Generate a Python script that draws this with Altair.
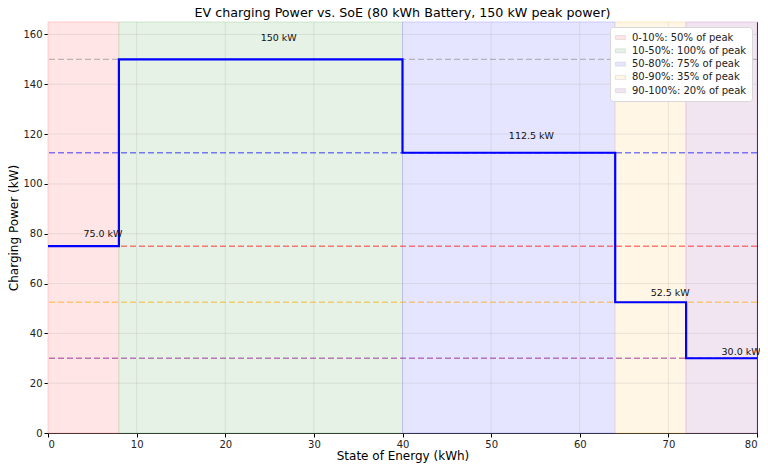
import altair as alt
import pandas as pd

# Data
band_start = [0, 8, 40, 64, 72]
band_end = [8, 40, 64, 72, 80]
band_labels = ["0-10%: 50% of peak", "10-50%: 100% of peak", "50-80%: 75% of peak",
               "80-90%: 35% of peak", "90-100%: 20% of peak"]
band_fill = ["#ffe5e5", "#e5f2e5", "#e5e5ff", "#fff6e5", "#f2e5f2"]
band_edge = ["#ffb3b3", "#b3d9b3", "#b3b3ff", "#ffdb99", "#d9b3d9"]

powers = [75.0, 150.0, 112.5, 52.5, 30.0]
power_labels = ["75.0 kW", "150 kW", "112.5 kW", "52.5 kW", "30.0 kW"]
line_colors = ["#ff0000", "#808080", "#0000ff", "#ffa500", "#800080"]

step_x = [0, 8, 40, 64, 72, 80]
step_y = [75.0, 150.0, 112.5, 52.5, 30.0, 30.0]

W, H = 709, 411
FONT = "DejaVu Sans"

bands = pd.DataFrame({"x": band_start, "x2": band_end, "label": band_labels})
hl = pd.DataFrame({"y": powers, "c": line_colors})
step = pd.DataFrame({"x": step_x, "y": step_y})
labels = pd.DataFrame({
    "x": [(a + b) / 2 for a, b in zip(band_start, band_end)],
    "y": [p * 1.05 for p in powers],
    "t": power_labels,
})

xs = alt.Scale(domain=[0, 80], nice=False, zero=False)
ys = alt.Scale(domain=[0, 165], nice=False)

rect = alt.Chart(bands).mark_rect(strokeWidth=1, strokeOpacity=0.6).encode(
    x=alt.X("x:Q", scale=xs, title="State of Energy (kWh)",
            axis=alt.Axis(values=[0, 10, 20, 30, 40, 50, 60, 70, 80], format="d", titlePadding=1)),
    x2="x2:Q",
    y=alt.value(0),
    y2=alt.value(H),
    color=alt.Color("label:N", sort=band_labels,
                    scale=alt.Scale(domain=band_labels, range=band_fill),
                    legend=alt.Legend(title=None, orient="top-right", offset=5,
                                      fillColor="white", strokeColor="#d8d8d8",
                                      cornerRadius=3, padding=5,
                                      symbolType="M-1,-0.4H1V0.4H-1Z", symbolSize=100,
                                      symbolStrokeColor="#cccccc", symbolStrokeWidth=0.5,
                                      labelFont=FONT, labelFontSize=10, labelColor="#222",
                                      labelOffset=6, rowPadding=2.3)),
    stroke=alt.Stroke("label:N", scale=alt.Scale(domain=band_labels, range=band_edge), legend=None),
)

grid = alt.Chart(step).mark_point(opacity=0).encode(
    x=alt.X("x:Q", scale=xs),
    y=alt.Y("y:Q", scale=ys, title="Charging Power (kW)",
            axis=alt.Axis(values=[0, 20, 40, 60, 80, 100, 120, 140, 160], titlePadding=2)),
)

gridx = alt.Chart(pd.DataFrame({"v": [10, 20, 30, 40, 50, 60, 70]})).mark_rule(
    color="#b0b0b0", opacity=0.35, strokeWidth=0.8).encode(x=alt.X("v:Q", scale=xs))
gridy = alt.Chart(pd.DataFrame({"v": [20, 40, 60, 80, 100, 120, 140, 160]})).mark_rule(
    color="#b0b0b0", opacity=0.35, strokeWidth=0.8).encode(y=alt.Y("v:Q", scale=ys))

rules = alt.Chart(hl).mark_rule(strokeDash=[6, 3], strokeWidth=1.4, opacity=0.5).encode(
    y=alt.Y("y:Q", scale=ys),
    color=alt.Color("c:N", scale=None),
)

line = alt.Chart(step).mark_line(interpolate="step-after", color="#0000ff", strokeWidth=2.2).encode(
    x=alt.X("x:Q", scale=xs),
    y=alt.Y("y:Q", scale=ys),
)

text = alt.Chart(labels).mark_text(align="left", baseline="bottom", font=FONT, fontSize=9.5,
                                    color="#111", dy=2).encode(
    x=alt.X("x:Q", scale=xs),
    y=alt.Y("y:Q", scale=ys),
    text="t:N",
)

chart = alt.layer(rect, gridx, gridy, grid, rules, line, text).resolve_scale(
    color="independent"
).properties(
    width=W, height=H,
    title=alt.TitleParams("EV charging Power vs. SoE (80 kWh Battery, 150 kW peak power)",
                          font=FONT, fontSize=12.7, fontWeight="normal", color="#000", offset=2),
    autosize=alt.AutoSizeParams(type="none"),
    padding={"left": 40, "top": 14, "right": 3, "bottom": 30},
).configure_axis(
    labelFont=FONT, labelFontSize=10, labelColor="#222", titleFont=FONT, titleFontSize=12,
    titleFontWeight="normal", titleColor="#000", grid=False, domainColor="#000",
    tickColor="#000", tickSize=4, labelPadding=2,
).configure_view(stroke="#000", strokeWidth=1)

chart.save("out.html", embed_options={"renderer": "svg", "actions": False})
